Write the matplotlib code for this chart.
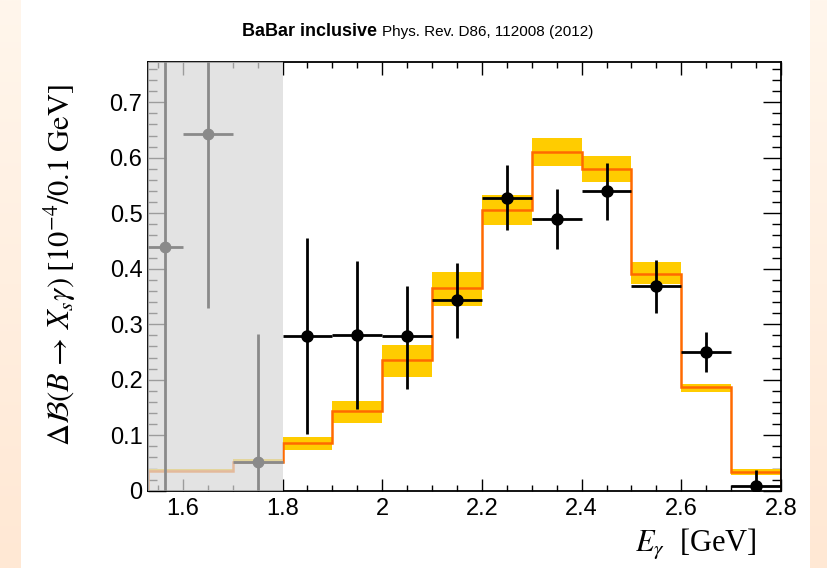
import numpy as np
import matplotlib
matplotlib.use("Agg")
import matplotlib.pyplot as plt
from matplotlib.ticker import MultipleLocator, FuncFormatter
from matplotlib.colors import LinearSegmentedColormap

# bins of the prediction histogram
edges = [1.53, 1.6, 1.7, 1.8, 1.9, 2.0, 2.1, 2.2, 2.3, 2.4, 2.5, 2.6, 2.7, 2.8]
pred = [0.036, 0.036, 0.052, 0.0865, 0.144, 0.2355, 0.365, 0.506, 0.610, 0.579, 0.390, 0.186, 0.033]
pred_hi = [0.039, 0.039, 0.057, 0.097, 0.162, 0.2625, 0.395, 0.532, 0.635, 0.603, 0.4115, 0.192, 0.039]
pred_lo = [0.033, 0.033, 0.049, 0.073, 0.1225, 0.205, 0.333, 0.478, 0.586, 0.557, 0.372, 0.178, 0.028]

# BaBar data, measured range
data_x = [1.85, 1.95, 2.05, 2.15, 2.25, 2.35, 2.45, 2.55, 2.65, 2.75]
data_y = [0.279, 0.281, 0.278, 0.344, 0.528, 0.490, 0.540, 0.368, 0.250, 0.008]
data_hi = [0.456, 0.414, 0.369, 0.411, 0.587, 0.544, 0.591, 0.415, 0.286, 0.037]
data_lo = [0.102, 0.148, 0.184, 0.276, 0.470, 0.435, 0.488, 0.321, 0.214, -0.021]

# data below the cut (greyed out)
low_x = [1.565, 1.65, 1.75]
low_xw = [0.035, 0.05, 0.05]
low_y = [0.439, 0.643, 0.052]
low_hi = [0.95, 0.96, 0.282]
low_lo = [-0.07, 0.330, -0.18]

W, H = 828, 568
fig = plt.figure(figsize=(W / 100, H / 100), dpi=100)
fig.patch.set_facecolor("white")
plt.rcParams["mathtext.fontset"] = "stix"

# cream side strips
grad = np.linspace(0, 1, 256).reshape(-1, 1)
cream = LinearSegmentedColormap.from_list("cream", ["#fff6ec", "#ffe8d4"])
for x0, w in [(0, 21), (810, 18)]:
    sax = fig.add_axes([x0 / W, 0, w / W, 1])
    sax.imshow(grad, aspect="auto", cmap=cream, extent=[0, 1, 1, 0])
    sax.axis("off")

ax = fig.add_axes([148 / W, 1 - 490.7 / H, (781 - 148) / W, (490.7 - 62.3) / H])

ax.stairs(pred_hi, edges, baseline=pred_lo, fill=True, color="#ffcc00", lw=0, zorder=2)
ax.stairs(pred, edges, color="#ff6a00", lw=1.8, zorder=2.2)

# greyed region below 1.8 GeV
ax.axvspan(1.53, 1.8, color="#d9d9d9", alpha=0.72, lw=0, zorder=2.7)

ly = np.array(low_y)
ax.errorbar(low_x, low_y, xerr=low_xw,
            yerr=[ly - np.array(low_lo), np.array(low_hi) - ly],
            fmt="o", color="#8a8a8a", ms=7.5, lw=2, capsize=0, zorder=4)

dy = np.array(data_y)
ax.errorbar(data_x, data_y, xerr=0.05,
            yerr=[dy - np.array(data_lo), np.array(data_hi) - dy],
            fmt="o", color="black", ms=8, lw=2, capsize=0, zorder=5)

ax.set_xlim(1.53, 2.8)
ax.set_ylim(0, 0.772)

ax.xaxis.set_major_locator(MultipleLocator(0.2))
ax.xaxis.set_minor_locator(MultipleLocator(0.05))
ax.yaxis.set_major_locator(MultipleLocator(0.1))
ax.yaxis.set_minor_locator(MultipleLocator(0.02))
ax.xaxis.set_major_formatter(FuncFormatter(lambda v, p: "%g" % round(v, 2)))
ax.yaxis.set_major_formatter(FuncFormatter(lambda v, p: "0" if abs(v) < 1e-9 else "%.1f" % v))

ax.tick_params(axis="both", which="both", direction="in", top=True, right=True,
               labelsize=17, width=1, color="black")
ax.tick_params(axis="x", which="major", length=9, pad=5)
ax.tick_params(axis="x", which="minor", length=4.5)
ax.tick_params(axis="y", which="major", length=13, pad=4)
ax.tick_params(axis="y", which="minor", length=6.5)
for lab in ax.get_xticklabels() + ax.get_yticklabels():
    lab.set_family(["Liberation Sans", "DejaVu Sans"])
for s in ax.spines.values():
    s.set_linewidth(1.3)

fig.text(60 / W, 1 - 265 / H,
         r"$\Delta\mathcal{B}(B\,\rightarrow\,X_s\gamma)\;[10^{-4}/0.1\;\mathrm{GeV}]$",
         rotation=90, ha="center", va="center", fontsize=22, family="STIXGeneral")
fig.text(757 / W, 1 - 545 / H, r"$E_\gamma$  [GeV]", ha="right", va="center",
         fontsize=22, family=["Liberation Serif", "DejaVu Serif"])

fig.text(377 / W, 1 - 32 / H, "BaBar inclusive", ha="right", va="center",
         fontsize=13, fontweight="bold", family=["Liberation Sans", "DejaVu Sans"])
fig.text(382 / W, 1 - 32 / H, "Phys. Rev. D86, 112008 (2012)", ha="left", va="center",
         fontsize=11, family=["Liberation Sans", "DejaVu Sans"])

fig.savefig("out.png", dpi=100)
